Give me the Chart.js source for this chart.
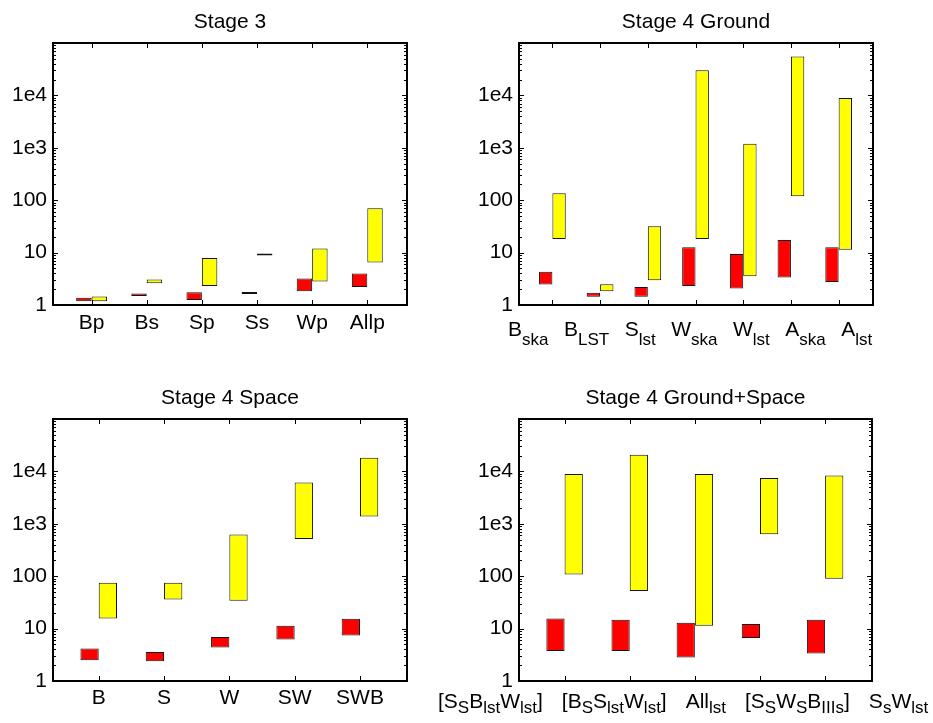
<!DOCTYPE html>
<html>
<head>
<meta charset="utf-8">
<script src="https://cdn.jsdelivr.net/npm/chart.js@4.4.0/dist/chart.umd.min.js"></script>
<style>
    html, body { margin: 0; padding: 0; background: #fff; }
    #wrap { position: relative; width: 933px; height: 723px; overflow: hidden; }
    #wrap canvas { position: absolute; left: 0; top: 0; }
</style>
</head>
<body>
<div id="wrap">
    <canvas id="stage3" width="933" height="723"></canvas>
    <canvas id="ground" width="933" height="723"></canvas>
    <canvas id="space" width="933" height="723"></canvas>
    <canvas id="groundSpace" width="933" height="723"></canvas>
</div>
<script>
// ---- data: [low, high] ranges per category ----
const stage3Labels = ['Bp', 'Bs', 'Sp', 'Ss', 'Wp', 'Allp'];
const stage3Red = [[1.18, 1.37], [1.49, 1.65], [1.25, 1.75], [1.62, 1.62], [1.83, 3.2], [2.21, 3.99]];
const stage3Yellow = [[1.18, 1.45], [2.6, 3.06], [2.31, 7.85], [8.8, 8.8], [2.8, 12.0], [6.5, 70.3]];

const groundLabels = ['B_{ska}', 'B_{LST}', 'S_{lst}', 'W_{ska}', 'W_{lst}', 'A_{ska}', 'A_{lst}'];
const groundRed = [[2.45, 4.29], [1.44, 1.72], [1.44, 2.21], [2.31, 12.7], [2.06, 9.36], [3.34, 17.4], [2.76, 12.7]];
const groundYellow = [[18.1, 136], [1.83, 2.49], [2.97, 31.8], [18.1, 30100], [3.55, 1200], [119, 55100], [11.3, 8890]];

const spaceLabels = ['B', 'S', 'W', 'SW', 'SWB'];
const spaceRed = [[2.49, 4.16], [2.38, 3.59], [4.35, 6.95], [6.18, 11.3], [7.38, 15.4]];
const spaceYellow = [[15.6, 75.1], [36.0, 75.1], [34.0, 622], [514, 6160], [1376, 18270]];

const groundSpaceLabels = ['[S_SB_{lst}W_{lst}]', '[B_SS_{lst}W_{lst}]', 'All_{lst}', '[S_SW_SB_{IIIs}]', 'S_sW_{lst}'];
const groundSpaceRed = [[3.75, 15.6], [3.75, 14.7], [2.80, 12.9], [6.65, 12.2], [3.34, 14.7]];
const groundSpaceYellow = [[108, 8890], [52.0, 20800], [11.3, 8890], [632, 7450], [89.6, 8380]];

const yMin = 1;
const yMax = 1e5;

const FONT = '"Liberation Sans", Arial, Helvetica, sans-serif';
const FONT_SIZE = 21;
const SUB_SIZE = 17;
const Y_AXIS_W = 50;
const PAGE_W = 933;
const PAGE_H = 723;

// split "B_{ska}" style labels into normal / subscript pieces
function parseTex(s) {
    const parts = [];
    let i = 0;
    while (i < s.length) {
        if (s[i] === '_') {
            let t;
            if (s[i + 1] === '{') {
                const j = s.indexOf('}', i);
                t = s.slice(i + 2, j);
                i = j + 1;
            } else {
                t = s[i + 1];
                i += 2;
            }
            parts.push({ text: t, sub: true });
        } else {
            let j = i;
            while (j < s.length && s[j] !== '_') j++;
            parts.push({ text: s.slice(i, j), sub: false });
            i = j;
        }
    }
    return parts;
}

function measureTex(ctx, parts) {
    let w = 0;
    parts.forEach(p => {
        ctx.font = (p.sub ? SUB_SIZE : FONT_SIZE) + 'px ' + FONT;
        w += ctx.measureText(p.text).width;
    });
    return w;
}

function drawTex(ctx, parts, x, y, subDrop) {
    ctx.textAlign = 'left';
    ctx.textBaseline = 'alphabetic';
    parts.forEach(p => {
        ctx.font = (p.sub ? SUB_SIZE : FONT_SIZE) + 'px ' + FONT;
        ctx.fillText(p.text, x, p.sub ? y + subDrop : y);
        x += ctx.measureText(p.text).width;
    });
}

// box, inside ticks, title and x labels (matlab style axes)
const axesBoxPlugin = {
    id: 'axesBox',
    afterDatasetsDraw(chart, args, opts) {
        const ctx = chart.ctx;
        const a = chart.chartArea;
        const xs = chart.scales.x;
        const ys = chart.scales.y;
        ctx.save();
        ctx.strokeStyle = '#000';
        ctx.lineWidth = 1;
        ctx.beginPath();
        for (let d = 0; d < 5; d++) {
            for (let m = 1; m < 10; m++) {
                const v = m * Math.pow(10, d);
                const y = Math.round(ys.getPixelForValue(v)) + 0.5;
                const len = m === 1 ? 5 : 3;
                ctx.moveTo(a.left, y); ctx.lineTo(a.left + len, y);
                ctx.moveTo(a.right - len, y); ctx.lineTo(a.right, y);
            }
        }
        opts.labels.forEach((lab, i) => {
            const x = Math.round(xs.getPixelForValue(i + 1)) + 0.5;
            ctx.moveTo(x, a.bottom); ctx.lineTo(x, a.bottom - 5);
            ctx.moveTo(x, a.top); ctx.lineTo(x, a.top + 5);
        });
        ctx.stroke();

        ctx.lineWidth = 2;
        ctx.strokeRect(a.left, a.top, a.right - a.left, a.bottom - a.top);

        // title
        ctx.fillStyle = '#000';
        ctx.font = FONT_SIZE + 'px ' + FONT;
        ctx.textAlign = 'center';
        ctx.textBaseline = 'alphabetic';
        ctx.fillText(opts.title, (a.left + a.right) / 2, a.top - 15);

        // x labels
        const baseY = a.bottom + opts.labelOffset;
        let flowX = a.left + opts.flowStart;
        opts.labels.forEach((lab, i) => {
            const parts = parseTex(lab);
            const w = measureTex(ctx, parts);
            let x;
            if (opts.layout === 'flow') {
                x = flowX;
                flowX += w + opts.flowGap;
            } else {
                x = xs.getPixelForValue(i + 1) - w / 2;
            }
            drawTex(ctx, parts, x, baseY, opts.subDrop);
        });
        ctx.restore();
    }
};

function yTickLabel(value) {
    const e = Math.log10(value);
    if (Math.abs(e - Math.round(e)) > 1e-9 || value >= yMax) return '';
    if (value < 1000) return String(Math.round(value));
    return '1e' + Math.round(e);
}

function makeBars(ranges) {
    return ranges.map((r, i) => ({ x: i + 1, y: r }));
}

function initPanel(canvasId, title, labels, red, yellow, box, labelOpts) {
    const canvas = document.getElementById(canvasId);
    const barStyle = {
        borderColor: '#111',
        borderWidth: 1,
        borderSkipped: false,
        minBarLength: 2,
        categoryPercentage: 0.56,
        barPercentage: 1
    };
    return new Chart(canvas.getContext('2d'), {
        type: 'bar',
        data: {
            datasets: [
                Object.assign({ label: 'red', data: makeBars(red), backgroundColor: '#ff0000' }, barStyle),
                Object.assign({ label: 'yellow', data: makeBars(yellow), backgroundColor: '#ffff00' }, barStyle)
            ]
        },
        options: {
            responsive: false,
            animation: false,
            events: [],
            layout: {
                padding: {
                    left: box.left - Y_AXIS_W,
                    top: box.top,
                    right: PAGE_W - box.right,
                    bottom: PAGE_H - box.bottom
                }
            },
            scales: {
                x: {
                    type: 'linear',
                    display: false,
                    offset: false,
                    min: 0.3,
                    max: labels.length + 0.72,
                    ticks: { stepSize: 1, includeBounds: false }
                },
                y: {
                    type: 'logarithmic',
                    min: yMin,
                    max: yMax,
                    grid: { display: false, drawTicks: false },
                    border: { display: false },
                    ticks: {
                        autoSkip: false,
                        padding: 6,
                        color: '#000',
                        font: { family: FONT, size: FONT_SIZE },
                        callback: yTickLabel
                    },
                    afterFit: function(scale) { scale.width = Y_AXIS_W; }
                }
            },
            plugins: {
                legend: { display: false },
                tooltip: { enabled: false },
                axesBox: Object.assign({ title: title, labels: labels }, labelOpts)
            }
        },
        plugins: [axesBoxPlugin]
    });
}

initPanel('stage3', 'Stage 3', stage3Labels, stage3Red, stage3Yellow,
    { left: 53, top: 43, right: 407, bottom: 305 },
    { layout: 'tick', labelOffset: 24, subDrop: 0, flowStart: 0, flowGap: 0 });

initPanel('ground', 'Stage 4 Ground', groundLabels, groundRed, groundYellow,
    { left: 519, top: 43, right: 873, bottom: 305 },
    { layout: 'flow', labelOffset: 31, subDrop: 9, flowStart: -11, flowGap: 15.5 });

initPanel('space', 'Stage 4 Space', spaceLabels, spaceRed, spaceYellow,
    { left: 53, top: 419, right: 407, bottom: 681 },
    { layout: 'tick', labelOffset: 23, subDrop: 0, flowStart: 0, flowGap: 0 });

initPanel('groundSpace', 'Stage 4 Ground+Space', groundSpaceLabels, groundSpaceRed, groundSpaceYellow,
    { left: 519, top: 419, right: 872, bottom: 681 },
    { layout: 'flow', labelOffset: 27, subDrop: 5, flowStart: -81, flowGap: 19 });
</script>
</body>
</html>
